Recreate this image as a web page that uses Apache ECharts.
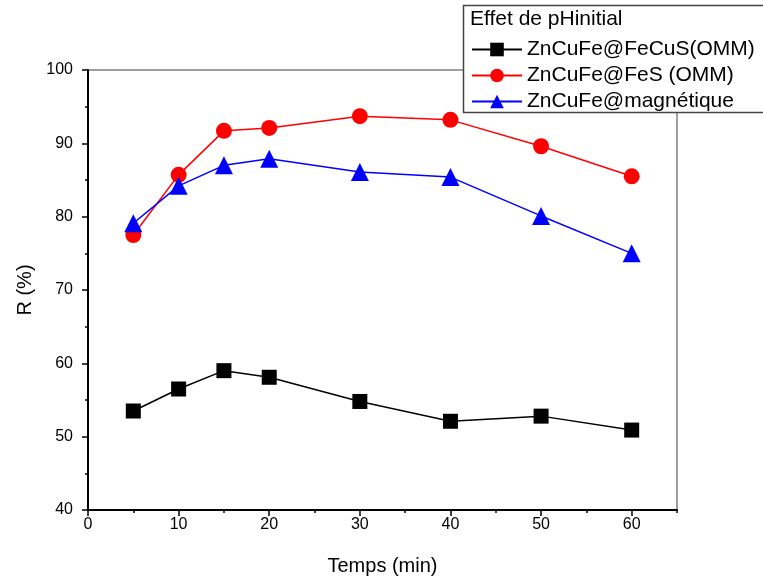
<!DOCTYPE html>
<html>
<head>
<meta charset="utf-8">
<script src="https://cdn.jsdelivr.net/npm/echarts@6/dist/echarts.min.js"></script>
<style>
  html, body { margin: 0; padding: 0; background: #fff; }
  #chart { width: 763px; height: 579px; }
</style>
</head>
<body>
<div id="chart"></div>
<script>
// Contact time (min)
const temps = [5, 10, 15, 20, 30, 40, 50, 60];

// Removal efficiency R (%) per adsorbent
const feCuS = [53.5, 56.5, 59.0, 58.1, 54.8, 52.1, 52.8, 50.9];
const feS = [77.5, 85.7, 91.7, 92.1, 93.7, 93.2, 89.6, 85.5];
const magnetique = [79.1, 84.2, 87.0, 87.9, 86.1, 85.4, 80.1, 75.0];

const seriesNames = ['ZnCuFe@FeCuS(OMM)', 'ZnCuFe@FeS (OMM)', 'ZnCuFe@magnétique'];
const legendTitle = 'Effet de pHinitial';

const pairs = arr => temps.map((t, i) => [t, arr[i]]);
const font = 'Arial, "Liberation Sans", sans-serif';

const chart = echarts.init(document.getElementById('chart'), null, { renderer: 'canvas' });

chart.setOption({
  backgroundColor: '#fff',
  animation: false,
  grid: {
    left: 88, right: 86, top: 70, bottom: 69,
    outerBoundsMode: 'none', containLabel: false,
    show: true, borderColor: '#808080', borderWidth: 1.5, backgroundColor: 'transparent'
  },
  xAxis: [{
    type: 'value', min: 0, max: 65, interval: 10,
    name: 'Temps (min)', nameLocation: 'middle', nameGap: 46,
    nameTextStyle: { fontFamily: font, fontSize: 20, color: '#000' },
    axisLine: { lineStyle: { color: '#000', width: 2 } },
    axisTick: { inside: false, length: 6, lineStyle: { color: '#000', width: 1.5 } },
    axisLabel: { fontFamily: font, fontSize: 16, color: '#000', margin: 7, showMaxLabel: false },
    splitLine: { show: false }
  }, {
    // finer ticks every 5 min
    type: 'value', min: 0, max: 65, interval: 5, position: 'bottom',
    axisLine: { show: false },
    axisTick: { inside: false, length: 3, lineStyle: { color: '#000', width: 1.5 } },
    axisLabel: { show: false },
    splitLine: { show: false }
  }],
  yAxis: {
    type: 'value', min: 40, max: 100, interval: 10,
    name: 'R (%)', nameLocation: 'middle', nameGap: 47,
    nameTextStyle: { fontFamily: font, fontSize: 20, color: '#000' },
    axisLine: { show: true, lineStyle: { color: '#000', width: 2 } },
    axisTick: { inside: false, length: 6, lineStyle: { color: '#000', width: 1.5 } },
    minorTick: { show: true, splitNumber: 2, length: 3, lineStyle: { color: '#000', width: 1.5 } },
    axisLabel: { fontFamily: font, fontSize: 16, color: '#000', margin: 15 },
    splitLine: { show: false }
  },
  graphic: [{
    type: 'rect', z: 10,
    shape: { x: 463.5, y: 5.5, width: 320, height: 107 },
    style: { fill: '#fff', stroke: '#444', lineWidth: 1.5 }
  }, {
    type: 'text', z: 11, left: 470, top: 9,
    style: { text: legendTitle, font: '21px ' + font, fill: '#000' }
  }],
  legend: {
    z: 12,
    orient: 'vertical', left: 466, top: 34,
    itemWidth: 50, itemHeight: 17, itemGap: 5,
    textStyle: { fontFamily: font, fontSize: 21, color: '#000' },
    data: seriesNames
  },
  series: [{
    name: seriesNames[0], type: 'line', data: pairs(feCuS),
    symbol: 'rect', symbolSize: 15,
    lineStyle: { color: '#000', width: 1.5 },
    itemStyle: { color: '#000' }
  }, {
    name: seriesNames[1], type: 'line', data: pairs(feS),
    symbol: 'circle', symbolSize: 16,
    lineStyle: { color: '#ff0000', width: 1.5 },
    itemStyle: { color: '#ff0000' }
  }, {
    name: seriesNames[2], type: 'line', data: pairs(magnetique),
    symbol: 'triangle', symbolSize: 18,
    lineStyle: { color: '#0000ff', width: 1.5 },
    itemStyle: { color: '#0000ff' }
  }]
});
</script>
</body>
</html>
